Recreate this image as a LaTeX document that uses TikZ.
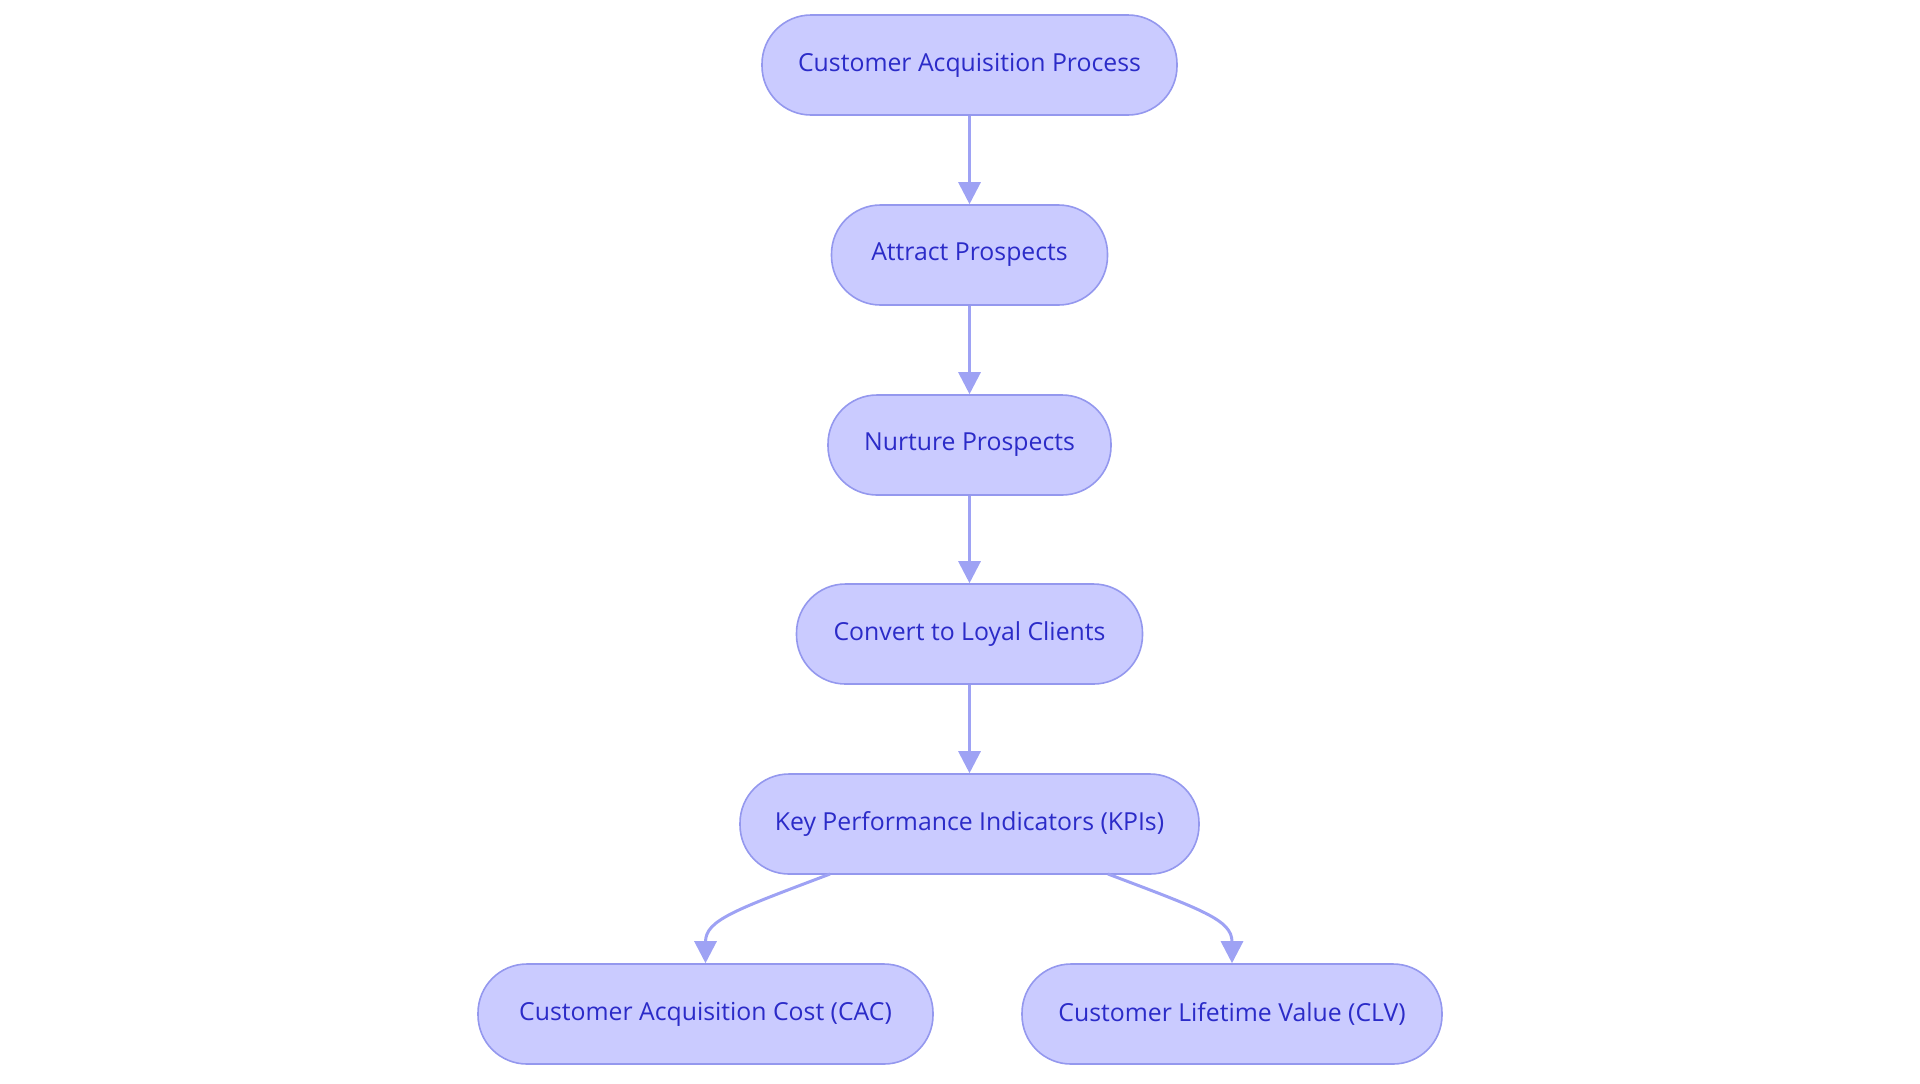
\documentclass[tikz,border=0pt]{standalone}
\usepackage{fontspec}
\setmainfont{Open Sans}
\usetikzlibrary{arrows.meta}
\definecolor{nodefill}{HTML}{CACBFF}
\definecolor{nodedraw}{HTML}{9498EE}
\definecolor{edgecol}{HTML}{9EA2F4}
\definecolor{txtcol}{HTML}{2B2BC8}
\tikzset{
  stadium/.style={draw=nodedraw, fill=nodefill, line width=0.8pt, rounded corners=24.5pt,
    minimum height=50pt, inner sep=0pt, text=txtcol, font=\fontsize{12.4pt}{14pt}\selectfont, anchor=center},
  flow/.style={draw=edgecol, line width=1.5pt, -{Triangle[length=11pt,width=11pt]}}
}
\begin{document}
\begin{tikzpicture}[x=0.5pt,y=-0.5pt]
\useasboundingbox (0,0) rectangle (1920,1083);
\node[stadium, minimum width=207.5pt] (cap) at (969.5,65) {\raisebox{-0.5pt}{Customer Acquisition Process}};
\node[stadium, minimum width=138pt] (att) at (969.5,255) {\raisebox{-0.5pt}{Attract Prospects}};
\node[stadium, minimum width=141.5pt] (nur) at (969.5,445) {\raisebox{-0.5pt}{Nurture Prospects}};
\node[stadium, minimum width=173pt] (con) at (969.5,634) {\raisebox{-0.5pt}{Convert to Loyal Clients}};
\node[stadium, minimum width=229.5pt] (kpi) at (969.5,824) {\raisebox{-0.5pt}{Key Performance Indicators (KPIs)}};
\node[stadium, minimum width=227.5pt] (cac) at (705.5,1014) {\raisebox{-0.5pt}{Customer Acquisition Cost (CAC)}};
\node[stadium, minimum width=210pt] (clv) at (1232,1014) {\raisebox{-0.5pt}{Customer Lifetime Value (CLV)}};
\draw[flow] (cap.south) -- (att.north);
\draw[flow] (att.south) -- (nur.north);
\draw[flow] (nur.south) -- (con.north);
\draw[flow] (con.south) -- (kpi.north);
\coordinate (kl) at (830,874);
\coordinate (kr) at (1108,874);
\draw[flow] (kl) .. controls (735,910) and (705.5,920) .. (cac.north);
\draw[flow] (kr) .. controls (1203,910) and (1232,920) .. (clv.north);
\end{tikzpicture}
\end{document}
